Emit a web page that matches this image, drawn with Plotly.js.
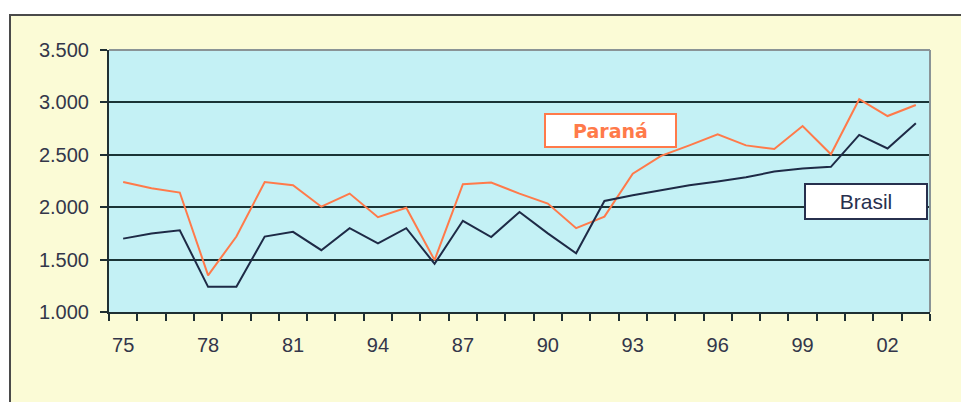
<!DOCTYPE html>
<html>
<head>
<meta charset="utf-8">
<script src="https://cdn.plot.ly/plotly-3.0.1.min.js"></script>
<style>
  html, body { margin: 0; padding: 0; background: #ffffff; width: 961px; height: 402px; overflow: hidden; }
  #frame { position: absolute; left: 9px; top: 14px; width: 1000px; height: 500px;
           background: #fbfbd6; border-top: 2px solid #4a4a4a; border-left: 2px solid #4a4a4a; }
  #chart { position: absolute; left: 0; top: 0; width: 961px; height: 402px; }
</style>
</head>
<body>
<div id="frame"></div>
<div id="chart"></div>
<script>
// Years (categories) 1975 - 2003
const years = [1975,1976,1977,1978,1979,1980,1981,1982,1983,1984,1985,1986,1987,1988,1989,
               1990,1991,1992,1993,1994,1995,1996,1997,1998,1999,2000,2001,2002,2003];
// Series values
const parana = [2240,2180,2140,1350,1720,2240,2210,2005,2130,1905,1995,1495,2220,2235,2130,
                2035,1800,1910,2320,2490,2590,2695,2590,2555,2775,2505,3030,2870,2975];
const brasil = [1700,1750,1780,1240,1240,1720,1765,1590,1800,1655,1800,1460,1870,1715,1955,
                1750,1560,2060,2115,2165,2210,2245,2285,2340,2370,2385,2690,2560,2800];
// Tick labels (as printed in the original)
const xTickYears  = [1975,1978,1981,1984,1987,1990,1993,1996,1999,2002];
const xTickLabels = ['75','78','81','94','87','90','93','96','99','02'];
const yTickVals   = [1000,1500,2000,2500,3000,3500];
const yTickLabels = ['1.000','1.500','2.000','2.500','3.000','3.500'];
const seriesNames = ['Paraná','Brasil'];

const traces = [
  { x: years, y: parana, type: 'scatter', mode: 'lines', name: seriesNames[0],
    line: { color: '#ff7a4a', width: 2 } },
  { x: years, y: brasil, type: 'scatter', mode: 'lines', name: seriesNames[1],
    line: { color: '#1e2a46', width: 2 } }
];

const tickFont = { family: 'Liberation Sans, Arial, sans-serif', size: 20, color: '#33364a' };

const layout = {
  width: 961, height: 402,
  margin: { l: 109, r: 31, t: 50, b: 90, pad: 0 },
  paper_bgcolor: 'rgba(0,0,0,0)',
  plot_bgcolor: '#c4f1f5',
  showlegend: false,
  xaxis: {
    type: 'linear', range: [1974.5, 2003.5],
    tickmode: 'array', tickvals: xTickYears, ticktext: xTickLabels,
    ticks: '', showgrid: false, zeroline: false,
    showline: true, linecolor: '#1f2f33', linewidth: 2,
    tickfont: tickFont, ticklabelstandoff: 14,
    minor: { tickmode: 'linear', tick0: 1974.5, dtick: 1, ticks: 'outside', ticklen: 7,
             tickwidth: 2, tickcolor: '#1f2f33', showgrid: false }
  },
  yaxis: {
    range: [1000, 3500], tickmode: 'array', tickvals: yTickVals, ticktext: yTickLabels,
    ticks: 'outside', ticklen: 7, tickwidth: 2, tickcolor: '#1f2f33',
    showgrid: true, gridcolor: '#1a3436', gridwidth: 2, zeroline: false,
    showline: true, linecolor: '#1f2f33', linewidth: 2,
    tickfont: tickFont, ticklabelstandoff: 7
  },
  shapes: [
    { type: 'line', xref: 'paper', yref: 'paper', x0: 0, x1: 1, y0: 1, y1: 1,
      line: { color: '#8a9496', width: 2 }, layer: 'above' },
    { type: 'line', xref: 'paper', yref: 'paper', x0: 1, x1: 1, y0: 0, y1: 1,
      line: { color: '#8a9496', width: 2 }, layer: 'above' }
  ],
  annotations: [
    { xref: 'paper', yref: 'paper', x: 0.6108, y: 0.6927, xanchor: 'center', yanchor: 'middle',
      text: '<b>' + seriesNames[0] + '</b>', showarrow: false,
      font: { family: 'DejaVu Sans, sans-serif', size: 19, color: '#ff7a4a' },
      bgcolor: '#ffffff', bordercolor: '#ff7a4a', borderwidth: 2, borderpad: 1,
      width: 127, height: 29 },
    { xref: 'paper', yref: 'paper', x: 0.9220, y: 0.4218, xanchor: 'center', yanchor: 'middle',
      text: seriesNames[1], showarrow: false,
      font: { family: 'Liberation Sans, Arial, sans-serif', size: 21, color: '#27304e' },
      bgcolor: '#ffffff', bordercolor: '#27304e', borderwidth: 2, borderpad: 1,
      width: 118, height: 31 }
  ]
};

Plotly.newPlot('chart', traces, layout, { displayModeBar: false, staticPlot: true });
</script>
</body>
</html>
